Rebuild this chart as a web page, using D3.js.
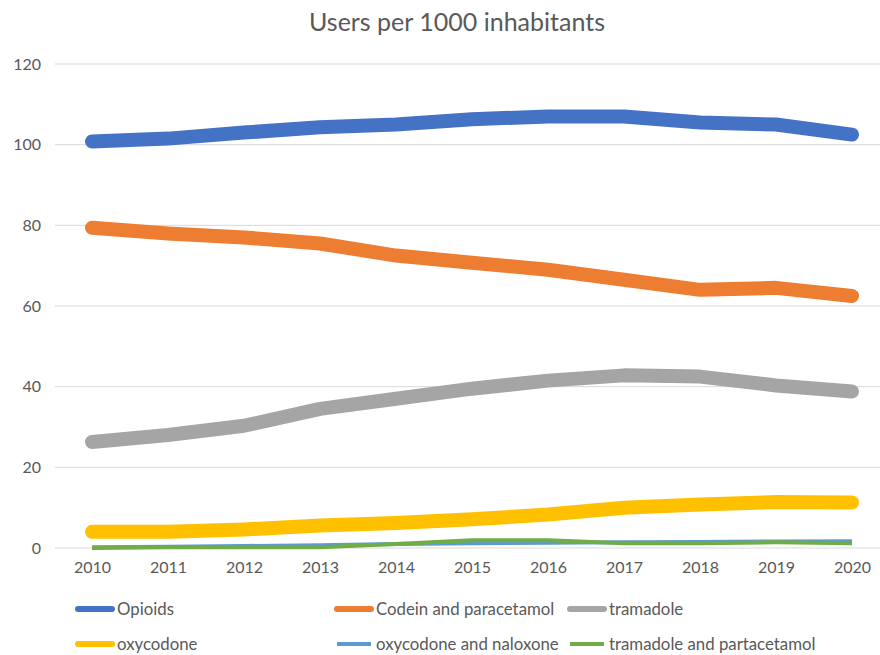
<!DOCTYPE html>
<html><head><meta charset="utf-8">
<script src="https://cdn.jsdelivr.net/npm/d3@7"></script>
<style>body{margin:0;background:#fff;} svg{display:block;font-family:Lato, "Open Sans", sans-serif;}</style>
</head><body><svg id="c" width="880" height="655"></svg>
<script>
const years = ["2010","2011","2012","2013","2014","2015","2016","2017","2018","2019","2020"];
const yTicks = [0,20,40,60,80,100,120];
const seriesNames = ["Opioids","Codein and paracetamol","tramadole","oxycodone","oxycodone and naloxone","tramadole and partacetamol"];
const seriesColors = ["#4472C4","#ED7D31","#A5A5A5","#FFC000","#5B9BD5","#70AD47"];
const opioids = [100.8,101.5,103,104.3,105,106.3,107,107,105.5,105,102.5];
const codein = [79.4,78,77,75.5,72.5,70.7,69,66.5,64,64.5,62.5];
const tramadole = [26.3,28,30.3,34.5,37,39.5,41.5,42.8,42.5,40.3,38.8];
const oxycodone = [4,4,4.6,5.6,6.2,7.1,8.3,10,10.8,11.4,11.3];
const oxyNaloxone = [0.2,0.3,0.5,0.7,1.0,1.2,1.3,1.4,1.5,1.6,1.7];
const tramParacet = [0,0.2,0.2,0.2,1.0,1.9,1.9,1.2,1.2,1.4,1.2];
const allSeries = [opioids,codein,tramadole,oxycodone,oxyNaloxone,tramParacet];
const widths = [14,14,14,14,4,4];

const svg = d3.select("#c");
const x = d3.scalePoint().domain(years).range([92,852]);
const y = d3.scaleLinear().domain([0,120]).range([548,64]);

svg.append("text").attr("x",457).attr("y",31).attr("text-anchor","middle")
  .attr("font-size",25).attr("fill","#595959").text("Users per 1000 inhabitants");

svg.append("g").selectAll("line").data(yTicks).join("line")
  .attr("x1",55).attr("x2",880).attr("y1",d=>y(d)).attr("y2",d=>y(d))
  .attr("stroke","#D9D9D9").attr("stroke-width",1);

const yAxis = svg.append("g").attr("transform","translate(41,0)")
  .call(d3.axisLeft(y).tickValues(yTicks).tickSize(0).tickPadding(0));
yAxis.select(".domain").remove();
yAxis.selectAll("text").attr("font-size",16).attr("fill","#595959").attr("font-family","Lato, sans-serif");

const xAxis = svg.append("g").attr("transform","translate(0,562)")
  .call(d3.axisBottom(x).tickSize(0).tickPadding(0));
xAxis.select(".domain").remove();
xAxis.selectAll("text").attr("font-size",16).attr("fill","#595959").attr("font-family","Lato, sans-serif");

const line = d3.line().x((d,i)=>x(years[i])).y(d=>y(d));
svg.append("g").selectAll("path").data(allSeries).join("path")
  .attr("d",d=>line(d)).attr("fill","none")
  .attr("stroke",(d,i)=>seriesColors[i]).attr("stroke-width",(d,i)=>widths[i])
  .attr("stroke-linecap",(d,i)=>widths[i]>5?"round":"butt")
  .attr("stroke-linejoin","round");

const lx = [78,337,570];
const ly = [609,644];
const leg = svg.append("g").selectAll("g").data(seriesNames).join("g")
  .attr("transform",(d,i)=>`translate(${lx[i%3]},${ly[Math.floor(i/3)]})`);
leg.append("line").attr("x1",0).attr("x2",34).attr("y1",0).attr("y2",0)
  .attr("stroke",(d,i)=>seriesColors[i]).attr("stroke-width",(d,i)=>widths[i]>5?6:4)
  .attr("stroke-linecap",(d,i)=>widths[i]>5?"round":"butt");
leg.append("text").attr("x",39).attr("y",6).attr("font-size",16.8).attr("fill","#595959").text(d=>d);
</script></body></html>
